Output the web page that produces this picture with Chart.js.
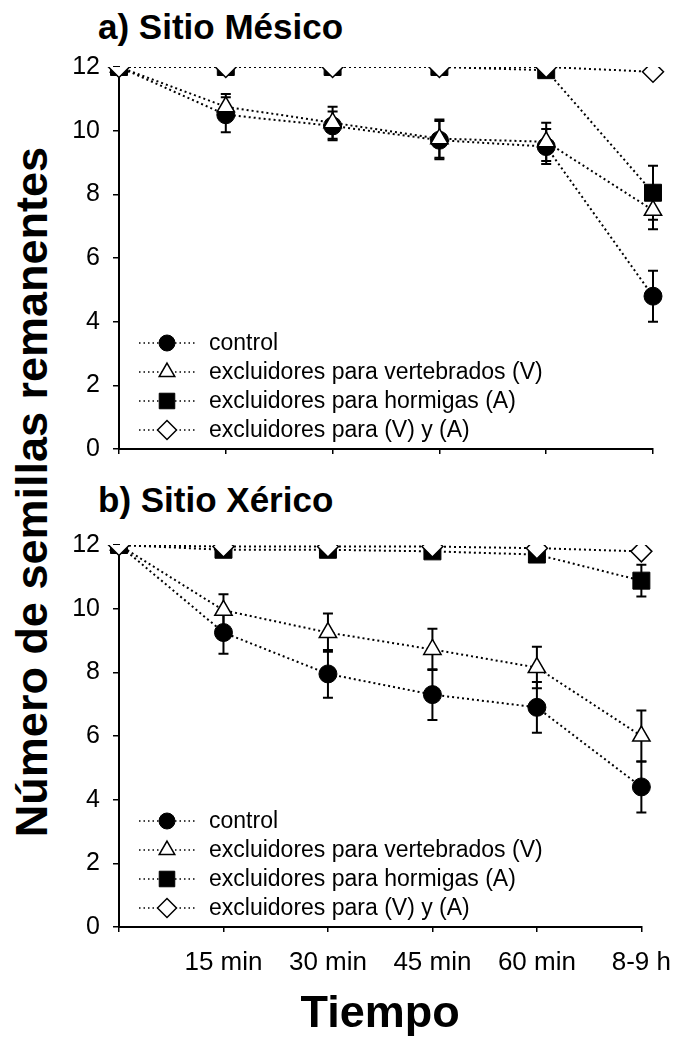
<!DOCTYPE html>
<html>
<head>
<meta charset="utf-8">
<script src="https://cdn.jsdelivr.net/npm/chart.js@4.4.1/dist/chart.umd.min.js"></script>
<style>
  body { margin: 0; background: #fff; width: 686px; height: 1043px; position: relative; overflow: hidden; font-family: "Liberation Sans", Arial, sans-serif; }
  canvas { position: absolute; left: 0; }
  .panel-title { position: absolute; left: 98px; font-weight: bold; font-size: 35px; color: #000; white-space: nowrap; line-height: 1; }
  #ytitle { position: absolute; left: 32px; top: 492px; font-weight: bold; font-size: 45px; color: #000; white-space: nowrap;
            transform: translate(-50%, -50%) rotate(-90deg); }
</style>
</head>
<body>
<div class="panel-title" style="top: 9px;">a) Sitio Mésico</div>
<div class="panel-title" style="top: 482px;">b) Sitio Xérico</div>
<div id="ytitle">Número de semillas remanentes</div>
<canvas id="chart-mesico" width="686" height="480" style="top:0"></canvas>
<canvas id="chart-xerico" width="686" height="573" style="top:470px"></canvas>
<script>
// time categories (first one is the start, no label)
const timeLabels = ['', '15 min', '30 min', '45 min', '60 min', '8-9 h'];
const seriesNames = ['control', 'excluidores para vertebrados (V)', 'excluidores para hormigas (A)', 'excluidores para (V) y (A)'];
const yTicks = [0, 2, 4, 6, 8, 10, 12];

// a) Sitio Mésico
const mesControl = [12, 10.5, 10.15, 9.7, 9.5, 4.8];
const mesVert = [12, 10.75, 10.25, 9.75, 9.65, 7.5];
const mesAnts = [12, 12, 12, 12, 11.9, 8.05];
const mesBoth = [12, 12, 12, 12, 12, 11.85];
const mesControlErr = [0, 0.55, 0.45, 0.6, 0.55, 0.8];
const mesVertErr = [0, 0.4, 0.5, 0.6, 0.6, 0.6];
const mesAntsErr = [0, 0, 0, 0, 0, 0.85];

// b) Sitio Xérico
const xerControl = [12, 9.25, 7.95, 7.3, 6.9, 4.4];
const xerVert = [12, 9.95, 9.25, 8.72, 8.15, 6.0];
const xerAnts = [12, 11.85, 11.85, 11.8, 11.7, 10.88];
const xerBoth = [12, 11.95, 11.95, 11.95, 11.9, 11.8];
const xerControlErr = [0, 0.67, 0.75, 0.8, 0.8, 0.8];
const xerVertErr = [0, 0.5, 0.6, 0.65, 0.65, 0.8];
const xerAntsErr = [0, 0, 0, 0, 0, 0.5];

Chart.defaults.font.family = '"Liberation Sans", Arial, sans-serif';
Chart.defaults.color = '#000';

const markerStyles = [
    { pointStyle: 'circle', radius: 9, bg: '#000', border: 1 },
    { pointStyle: 'triangle', radius: 10, bg: '#fff', border: 1.5 },
    { pointStyle: 'rect', radius: 12, bg: '#000', border: 1 },
    { pointStyle: 'rectRot', radius: 10.5, bg: '#fff', border: 1.5 }
];

function makeDatasets(values, errors) {
    return values.map((vals, i) => ({
        label: seriesNames[i],
        data: vals,
        errors: errors[i],
        borderColor: '#000',
        borderWidth: 2,
        borderDash: [2, 3],
        pointStyle: markerStyles[i].pointStyle,
        pointRadius: markerStyles[i].radius,
        pointBackgroundColor: markerStyles[i].bg,
        pointBorderColor: '#000',
        pointBorderWidth: markerStyles[i].border,
        order: 3 - i, // diamonds on top, control underneath
        tension: 0
    }));
}

// vertical error bars with caps, drawn under the markers
const errorBarPlugin = {
    id: 'errorBars',
    beforeDatasetsDraw(chart) {
        const ctx = chart.ctx;
        const yScale = chart.scales.y;
        ctx.save();
        ctx.strokeStyle = '#000';
        ctx.lineWidth = 2;
        chart.data.datasets.forEach((ds, i) => {
            if (!ds.errors) return;
            chart.getDatasetMeta(i).data.forEach((pt, j) => {
                const e = ds.errors[j];
                if (!e) return;
                const yTop = yScale.getPixelForValue(ds.data[j] + e);
                const yBot = yScale.getPixelForValue(ds.data[j] - e);
                ctx.beginPath();
                ctx.moveTo(pt.x, yTop); ctx.lineTo(pt.x, yBot);
                ctx.moveTo(pt.x - 5, yTop); ctx.lineTo(pt.x + 5, yTop);
                ctx.moveTo(pt.x - 5, yBot); ctx.lineTo(pt.x + 5, yBot);
                ctx.stroke();
            });
        });
        ctx.restore();
    }
};

// legend drawn inside the plot area, lower left
const insideLegendPlugin = {
    id: 'insideLegend',
    afterDraw(chart) {
        const ctx = chart.ctx;
        const area = chart.chartArea;
        ctx.save();
        chart.data.datasets.forEach((ds, i) => {
            const y = area.bottom - 106 + i * 29;
            const x0 = area.left + 20, xm = area.left + 48, x1 = area.left + 78;
            ctx.strokeStyle = '#000';
            ctx.lineWidth = 1.5;
            ctx.setLineDash([1.5, 3]);
            ctx.beginPath();
            ctx.moveTo(x0, y); ctx.lineTo(x1, y);
            ctx.stroke();
            ctx.setLineDash([]);
            ctx.fillStyle = ds.pointBackgroundColor;
            ctx.strokeStyle = '#000';
            ctx.lineWidth = ds.pointBorderWidth;
            Chart.helpers.drawPoint(ctx, { pointStyle: ds.pointStyle, radius: ds.pointRadius - 1, borderWidth: ds.pointBorderWidth }, xm, y);
            ctx.fillStyle = '#000';
            ctx.font = '23px "Liberation Sans", Arial, sans-serif';
            ctx.textBaseline = 'middle';
            ctx.fillText(ds.label, area.left + 90, y + 1);
        });
        ctx.restore();
    }
};

function buildChart(canvasId, datasets, opts) {
    const ctx = document.getElementById(canvasId).getContext('2d');
    return new Chart(ctx, {
        type: 'line',
        data: { labels: timeLabels, datasets: datasets },
        plugins: [errorBarPlugin, insideLegendPlugin],
        options: {
            responsive: false,
            animation: false,
            devicePixelRatio: 1,
            layout: { padding: { top: opts.padTop, right: 33, left: 0, bottom: 0 } },
            plugins: { legend: { display: false }, tooltip: { enabled: false } },
            scales: {
                x: {
                    type: 'category',
                    offset: false,
                    border: { color: '#000', width: 2 },
                    grid: { drawOnChartArea: false, drawTicks: true, tickLength: 5, color: '#000', lineWidth: 1.5 },
                    ticks: {
                        autoSkip: false,
                        maxRotation: 0,
                        padding: 15,
                        font: { size: 26 },
                        callback: (v, i) => opts.showX ? timeLabels[i] : ''
                    },
                    title: {
                        display: opts.showX,
                        text: 'Tiempo',
                        font: { size: 45, weight: 'bold', lineHeight: 1.0 },
                        padding: { top: 0, bottom: 6 }
                    },
                    afterFit: s => { s.height = opts.xHeight; }
                },
                y: {
                    min: 0,
                    max: 12,
                    border: { color: '#000', width: 2 },
                    grid: { drawOnChartArea: false, drawTicks: true, tickLength: 6, color: '#000', lineWidth: 1.5 },
                    ticks: {
                        stepSize: 2,
                        padding: 13,
                        font: { size: 25 },
                        callback: v => yTicks.includes(v) ? String(v) : ''
                    },
                    afterFit: s => { s.width = 119; }
                }
            }
        }
    });
}

buildChart('chart-mesico',
    makeDatasets([mesControl, mesVert, mesAnts, mesBoth], [mesControlErr, mesVertErr, mesAntsErr, null]),
    { padTop: 67, xHeight: 31, showX: false });

buildChart('chart-xerico',
    makeDatasets([xerControl, xerVert, xerAnts, xerBoth], [xerControlErr, xerVertErr, xerAntsErr, null]),
    { padTop: 75, xHeight: 116, showX: true });
</script>
</body>
</html>
